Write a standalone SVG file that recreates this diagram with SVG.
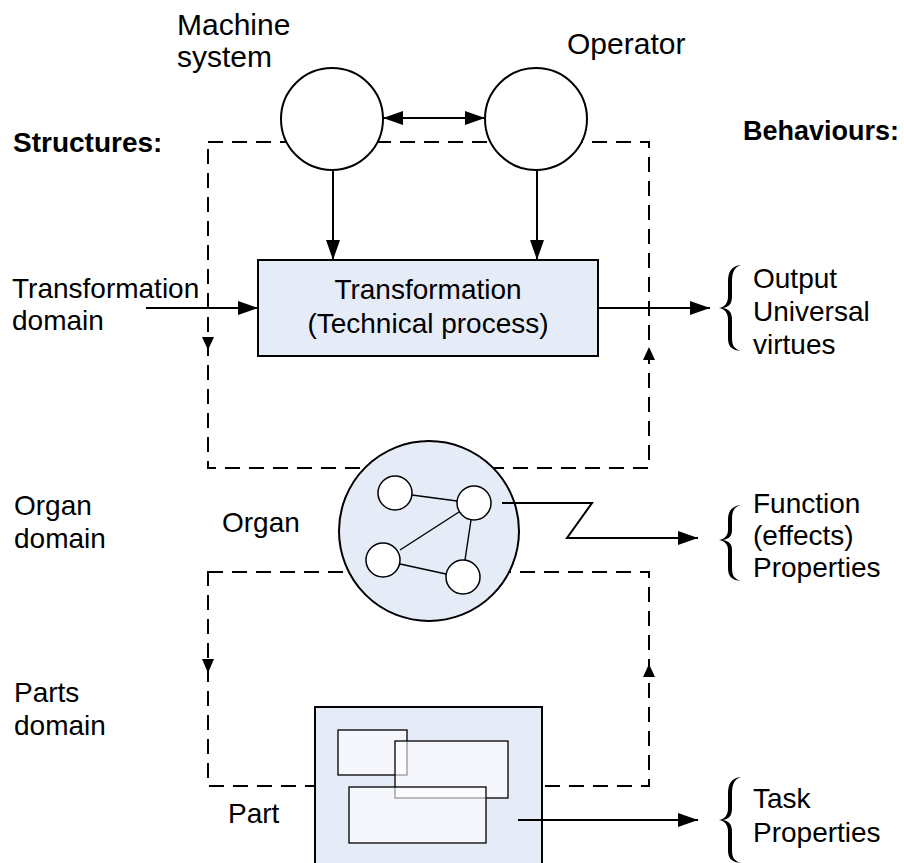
<svg xmlns="http://www.w3.org/2000/svg" width="904" height="863" viewBox="0 0 904 863">
<style>
text{font-family:"Liberation Sans",Arial,sans-serif;font-size:28px;fill:#000}
.big{font-size:30px}
.bold{font-weight:bold;font-size:27px}
.dash{fill:none;stroke:#000;stroke-width:2;stroke-dasharray:15,9}
.line{fill:none;stroke:#000;stroke-width:2}
.node{stroke:#000;stroke-width:2}
.thin{stroke:#000;stroke-width:1.4;fill:none}
.sc{fill:#fff;stroke:#000;stroke-width:1.5}
.ir{fill:#fff;fill-opacity:0.6;stroke:#000;stroke-width:1.3}
.brace{fill:#000;stroke:none}
</style>
<defs>
<marker id="ah" markerUnits="userSpaceOnUse" markerWidth="20" markerHeight="14" refX="20" refY="7" orient="auto-start-reverse">
<path d="M0,0 L20,7 L0,14 Z" fill="#000"/>
</marker>
</defs>
<rect width="904" height="863" fill="#fff"/>

<g id="domains">
<rect class="dash" x="208" y="142" width="441" height="326"/>
<rect class="dash" x="208" y="572" width="441" height="214"/>
<polygon points="202,337 214,337 208,350" fill="#000"/>
<polygon points="643,360 655,360 649,347" fill="#000"/>
<polygon points="202,659 214,659 208,673" fill="#000"/>
<polygon points="643,677 655,677 649,664" fill="#000"/>
</g>

<g id="connectors">
<line class="line" x1="383" y1="118" x2="485" y2="118" marker-start="url(#ah)" marker-end="url(#ah)"/>
<line class="line" x1="333" y1="170" x2="333" y2="260" marker-end="url(#ah)"/>
<line class="line" x1="537" y1="170" x2="537" y2="260" marker-end="url(#ah)"/>
<line class="line" x1="146" y1="308" x2="258" y2="308" marker-end="url(#ah)"/>
<line class="line" x1="598" y1="308" x2="710" y2="308" marker-end="url(#ah)"/>
</g>

<g id="machine">
<circle class="node" cx="332" cy="119" r="51" fill="#fff"/>
<text class="big" x="177" y="35">Machine<tspan x="177" y="67">system</tspan></text>
</g>

<g id="operator">
<circle class="node" cx="536" cy="119" r="51" fill="#fff"/>
<text class="big" x="567" y="54">Operator</text>
</g>

<g id="transformation">
<rect class="node" x="258" y="260" width="340" height="96" fill="#e5ecf7"/>
<text x="428" y="299" text-anchor="middle">Transformation<tspan x="428" y="333">(Technical process)</tspan></text>
</g>

<g id="organ">
<circle class="node" cx="429" cy="531" r="90" fill="#e5ecf7"/>
<line class="thin" x1="412" y1="495" x2="457" y2="501"/>
<line class="thin" x1="459" y1="512" x2="400" y2="550"/>
<line class="thin" x1="471" y1="520" x2="465" y2="560"/>
<line class="thin" x1="400" y1="564" x2="446" y2="574"/>
<circle class="sc" cx="395" cy="493" r="17"/>
<circle class="sc" cx="474" cy="503" r="17"/>
<circle class="sc" cx="383" cy="560" r="17"/>
<circle class="sc" cx="463" cy="577" r="17"/>
<text x="222" y="532">Organ</text>
</g>

<g id="organ-arrow">
<polyline class="line" points="502,503 592,503 567,538 698,538" marker-end="url(#ah)"/>
</g>

<g id="part">
<rect class="node" x="315" y="707" width="227" height="170" fill="#e5ecf7"/>
<rect class="ir" x="338" y="730" width="69" height="45"/>
<rect class="ir" x="395" y="741" width="113" height="57"/>
<rect class="ir" x="349" y="787" width="137" height="56"/>
<text x="228" y="823">Part</text>
</g>

<g id="part-arrow">
<line class="line" x1="518" y1="820" x2="698" y2="820" marker-end="url(#ah)"/>
</g>

<g id="labels">
<text class="bold" x="13" y="152" style="font-size:28px">Structures:</text>
<text class="bold" x="743" y="140">Behaviours:</text>
<text x="12" y="298">Transformation<tspan x="12" y="330">domain</tspan></text>
<text x="14" y="515">Organ<tspan x="14" y="548">domain</tspan></text>
<text x="14" y="702">Parts<tspan x="14" y="735">domain</tspan></text>
</g>

<g id="behaviour-1">
<path class="brace" d="M741,265 C731,266 728,272 728,282 L728,296 C728,303 725,307 719,308 C725,309 728,313 728,320 L728,338 C728,346 731,350 741,351 C734,349 732,345 732,338 L732,320 C732,312 729,309 723,308 C729,307 732,304 732,296 L732,282 C732,273 734,267 741,265 Z"/>
<text x="753" y="288">Output<tspan x="753" y="321">Universal</tspan><tspan x="753" y="354">virtues</tspan></text>
</g>

<g id="behaviour-2">
<path class="brace" d="M741,505 C731,506 728,512 728,520 L728,530 C728,535 725,539 719,540 C725,541 728,545 728,550 L728,568 C728,576 731,580 741,581 C734,579 732,575 732,568 L732,550 C732,544 729,541 723,540 C729,539 732,536 732,530 L732,520 C732,511 734,507 741,505 Z"/>
<text x="753" y="513">Function<tspan x="753" y="545">(effects)</tspan><tspan x="753" y="577">Properties</tspan></text>
</g>

<g id="behaviour-3">
<path class="brace" d="M741,777 C731,778 728,784 728,794 L728,808 C728,815 725,819 719,820 C725,821 728,825 728,832 L728,850 C728,858 731,862 741,863 C734,861 732,857 732,850 L732,832 C732,824 729,821 723,820 C729,819 732,816 732,808 L732,794 C732,785 734,779 741,777 Z"/>
<text x="753" y="808">Task<tspan x="753" y="842">Properties</tspan></text>
</g>
</svg>
